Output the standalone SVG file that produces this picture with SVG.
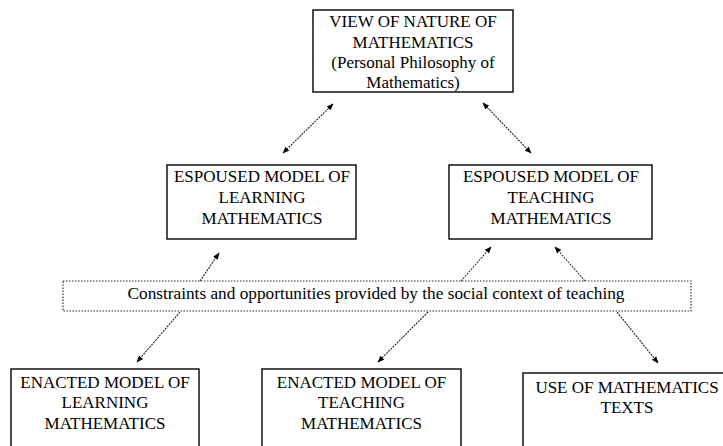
<svg xmlns="http://www.w3.org/2000/svg" width="723" height="446" viewBox="0 0 723 446">
<defs>
<marker id="ah" viewBox="0 0 10 10" refX="9" refY="5" markerWidth="7" markerHeight="7" orient="auto-start-reverse" markerUnits="userSpaceOnUse">
<path d="M0,1 L10,5 L0,9 Z" fill="#000"/>
</marker>
<style>
.box{fill:#fff;stroke:#000;stroke-width:1.4}
.dot{fill:none;stroke:#333;stroke-width:1.2;stroke-dasharray:1.5 1.5}
.t{font-family:'Liberation Serif','DejaVu Serif',serif;font-size:17px;fill:#000;text-anchor:middle}
.s{font-family:'Liberation Serif','DejaVu Serif',serif;font-size:16px;fill:#000;text-anchor:middle}
.c{stroke:#222;stroke-width:1.1;stroke-dasharray:2 1;fill:none}
</style>
</defs>
<rect width="723" height="446" fill="#fff"/>
<g id="view">
<rect class="box" x="313" y="10" width="200" height="82"/>
<text class="t" x="413" y="27">VIEW OF NATURE OF</text>
<text class="t" x="413" y="48">MATHEMATICS</text>
<text class="t" x="413" y="68">(Personal Philosophy of</text>
<text class="t" x="413" y="88">Mathematics)</text>
</g>
<g id="esp-learning">
<rect class="box" x="167" y="165" width="189" height="74"/>
<text class="t" x="262" y="182">ESPOUSED MODEL OF</text>
<text class="t" x="262" y="203">LEARNING</text>
<text class="t" x="262" y="224">MATHEMATICS</text>
</g>
<g id="esp-teaching">
<rect class="box" x="449" y="165" width="203" height="74"/>
<text class="t" x="551" y="182">ESPOUSED MODEL OF</text>
<text class="t" x="551" y="203">TEACHING</text>
<text class="t" x="551" y="224">MATHEMATICS</text>
</g>
<g id="constraints">
<rect class="dot" x="63" y="281" width="628" height="30"/>
<text class="s" x="376" y="299" textLength="497" lengthAdjust="spacingAndGlyphs">Constraints and opportunities provided by the social context of teaching</text>
</g>
<g id="enact-learning">
<rect class="box" x="11" y="369" width="188" height="90"/>
<text class="t" x="105" y="388">ENACTED MODEL OF</text>
<text class="t" x="105" y="408">LEARNING</text>
<text class="t" x="105" y="429">MATHEMATICS</text>
</g>
<g id="enact-teaching">
<rect class="box" x="262" y="369" width="199" height="90"/>
<text class="t" x="361.5" y="388">ENACTED MODEL OF</text>
<text class="t" x="361.5" y="408">TEACHING</text>
<text class="t" x="361.5" y="429">MATHEMATICS</text>
</g>
<g id="texts">
<rect class="box" x="523" y="373" width="215" height="90"/>
<text class="t" x="627" y="393">USE OF MATHEMATICS</text>
<text class="t" x="627" y="413">TEXTS</text>
</g>
<g id="connectors">
<line class="c" x1="333" y1="104" x2="283" y2="153" marker-start="url(#ah)" marker-end="url(#ah)"/>
<line class="c" x1="483" y1="103" x2="531" y2="153" marker-start="url(#ah)" marker-end="url(#ah)"/>
<line class="c" x1="200" y1="281" x2="219" y2="253" marker-end="url(#ah)"/>
<line class="c" x1="461" y1="281" x2="491" y2="247" marker-end="url(#ah)"/>
<line class="c" x1="585" y1="281" x2="555" y2="247" marker-end="url(#ah)"/>
<line class="c" x1="180" y1="312" x2="137" y2="362" marker-end="url(#ah)"/>
<line class="c" x1="428" y1="312" x2="378" y2="362" marker-end="url(#ah)"/>
<line class="c" x1="617" y1="312" x2="658" y2="363" marker-end="url(#ah)"/>
</g>
</svg>
